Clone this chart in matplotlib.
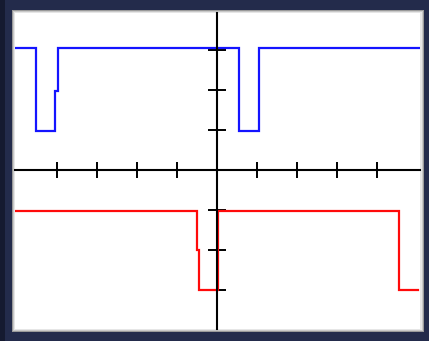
import matplotlib
matplotlib.use("Agg")
import matplotlib.pyplot as plt
from matplotlib.patches import Rectangle

# Signal data in oscilloscope divisions (time, level)
blue_t = [-5.05, -4.525, -4.525, -4.04, -4.04, -3.97, -3.97, 0.55, 0.55, 1.05, 1.05, 5.075]
blue_v = [3.05, 3.05, 0.97, 0.97, 1.97, 1.97, 3.05, 3.05, 0.97, 0.97, 3.05, 3.05]

red_t = [-5.03, -0.5, -0.5, -0.44, -0.44, 0.03, 0.03, 4.55, 4.55, 5.03]
red_v = [-1.03, -1.03, -2.0, -2.0, -3.0, -3.0, -1.03, -1.03, -3.0, -3.0]

x_ticks = [-4, -3, -2, -1, 1, 2, 3, 4]
y_ticks = [-3, -2, -1, 1, 2, 3]

W, H = 429, 341
fig = plt.figure(figsize=(W / 100, H / 100), dpi=100)
fig.patch.set_facecolor("#232b4b")

# Frame drawn in pixel coordinates
bg = fig.add_axes([0, 0, 1, 1])
bg.set_xlim(0, W)
bg.set_ylim(H, 0)
bg.axis("off")
bg.add_patch(Rectangle((0, 0), 5, H, color="#151a30", lw=0))
bg.add_patch(Rectangle((12, 10), 412, 322, color="#9a9a9a", lw=0))
bg.add_patch(Rectangle((13, 11), 410, 320, color="#c8c8c8", lw=0))
bg.add_patch(Rectangle((14, 12), 408, 318, color="#e6e6e6", lw=0))
bg.add_patch(Rectangle((15, 13), 405, 316, color="white", lw=0))

# Main axes over the white area
ax = fig.add_axes([15 / W, (H - 329) / H, 405 / W, 316 / H])
ax.set_facecolor("none")
ax.set_xlim(-5.05, 5.075)
ax.set_ylim(-3.975, 3.925)
for s in ("top", "right"):
    ax.spines[s].set_visible(False)
ax.spines["left"].set_position(("data", 0))
ax.spines["bottom"].set_position(("data", 0))
for s in ("left", "bottom"):
    ax.spines[s].set_linewidth(1.5)
    ax.spines[s].set_color("black")
ax.set_xticks(x_ticks)
ax.set_yticks(y_ticks)
ax.set_xticklabels([])
ax.set_yticklabels([])
ax.tick_params(axis="x", direction="inout", length=11.5, width=1.4, color="black")
ax.tick_params(axis="y", direction="inout", length=12.5, width=1.4, color="black")

ax.plot(blue_t, blue_v, color="#1414ff", lw=1.6, solid_joinstyle="miter", zorder=2)
ax.plot(red_t, red_v, color="#ff0a0a", lw=1.6, solid_joinstyle="miter", zorder=2)

fig.savefig("out.png", dpi=100, facecolor=fig.get_facecolor())
